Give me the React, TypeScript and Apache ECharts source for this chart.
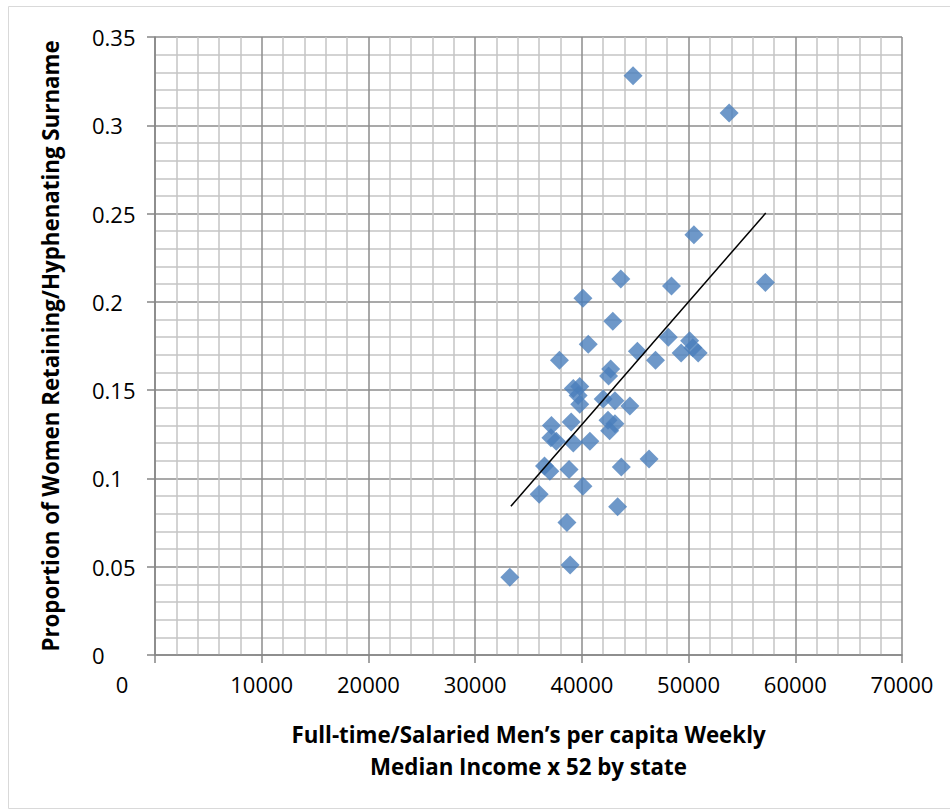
import React, { useEffect, useRef } from "react";
import * as echarts from "echarts";

// Median income (x) and proportion retaining/hyphenating surname (y), per state
const incomeX: number[] = [
  44800, 53800, 50500, 43650, 48400, 57200, 40100, 42900, 48100, 40600,
  45200, 46900, 37900, 50100, 50400, 49300, 50900, 42700, 42500, 39200,
  39800, 39650, 39800, 42000, 43100, 44500, 39000, 37150, 42450, 43100,
  42600, 37100, 37600, 39200, 40750, 36500, 37000, 38800, 40100, 36000,
  43700, 46300, 43350, 38600, 38900, 33250,
];
const proportionY: number[] = [
  0.328, 0.307, 0.238, 0.213, 0.209, 0.211, 0.202, 0.189, 0.18, 0.176,
  0.172, 0.167, 0.167, 0.178, 0.174, 0.171, 0.171, 0.162, 0.158, 0.151,
  0.152, 0.147, 0.142, 0.145, 0.144, 0.141, 0.132, 0.13, 0.133, 0.131,
  0.127, 0.123, 0.121, 0.12, 0.121, 0.107, 0.104, 0.105, 0.0955, 0.091,
  0.1065, 0.111, 0.084, 0.075, 0.051, 0.044,
];
// Linear trend line end points
const trendX: number[] = [33350, 57230];
const trendY: number[] = [0.0842, 0.2503];

const xTitle = "Full-time/Salaried Men\u2019s per capita Weekly\nMedian Income x 52 by state";
const yTitle = "Proportion of Women Retaining/Hyphenating Surname";

export default function App() {
  const ref = useRef<HTMLDivElement>(null);
  useEffect(() => {
    if (!ref.current) return;
    const chart = echarts.init(ref.current, undefined, { renderer: "svg" });
    const font = "'Open Sans', Lato, sans-serif";
    chart.setOption({
      animation: false,
      backgroundColor: "#ffffff",
      textStyle: { fontFamily: font },
      graphic: [
        {
          type: "rect",
          shape: { x: 8.5, y: 6.5, width: 960, height: 802 },
          style: { fill: "none", stroke: "#d9d9d9", lineWidth: 1 },
          silent: true,
          z: -10,
        },
      ],
      grid: { left: 155, right: 48, top: 37, bottom: 155, containLabel: false },
      xAxis: {
        type: "value",
        min: 0,
        max: 70000,
        interval: 10000,
        name: xTitle,
        nameLocation: "middle",
        nameGap: 63,
        nameTextStyle: {
          fontFamily: font,
          fontSize: 22.3,
          fontWeight: "bold",
          color: "#000",
          lineHeight: 32,
          align: "center",
        },
        axisLine: { show: true, lineStyle: { color: "#868686", width: 1.5 } },
        axisTick: { show: true, length: 8, inside: false, lineStyle: { color: "#868686", width: 1.5 } },
        axisLabel: {
          color: "#000",
          fontSize: 22,
          fontFamily: font,
          margin: 18,
          formatter: (v: number) => (v === 0 ? "{z|0}" : String(v)),
          rich: { z: { padding: [0, 66, 0, 0], fontSize: 22, fontFamily: font, color: "#000" } },
        },
        splitLine: { show: true, lineStyle: { color: "#8c8c8c", width: 1.5 } },
        minorTick: { show: false, splitNumber: 5 },
        minorSplitLine: { show: true, lineStyle: { color: "#c4c4c4", width: 1.5 } },
      },
      yAxis: {
        type: "value",
        min: 0,
        max: 0.35,
        interval: 0.05,
        name: yTitle,
        nameLocation: "middle",
        nameGap: 94,
        nameTextStyle: { fontFamily: font, fontSize: 22.3, fontWeight: "bold", color: "#000" },
        axisLine: { show: true, lineStyle: { color: "#868686", width: 1.5 } },
        axisTick: { show: true, length: 8, inside: false, lineStyle: { color: "#868686", width: 1.5 } },
        axisLabel: {
          color: "#000",
          fontSize: 22,
          fontFamily: font,
          align: "left",
          margin: 63,
          formatter: (v: number) => String(Math.round(v * 100) / 100),
        },
        splitLine: { show: true, lineStyle: { color: "#8c8c8c", width: 1.5 } },
        minorTick: { show: false, splitNumber: 5 },
        minorSplitLine: { show: true, lineStyle: { color: "#c4c4c4", width: 1.5 } },
      },
      series: [
        {
          type: "scatter",
          symbol: "diamond",
          symbolSize: [19, 19],
          itemStyle: { color: "#4a7ebb" },
          data: incomeX.map((x, i) => [x, proportionY[i]]),
          z: 3,
        },
        {
          type: "line",
          data: trendX.map((x, i) => [x, trendY[i]]),
          symbol: "none",
          lineStyle: { color: "#000", width: 1.5 },
          z: 4,
        },
      ],
    });
    return () => chart.dispose();
  }, []);
  return (
    <div
      ref={ref}
      style={{ position: "fixed", left: 0, top: 0, width: 950, height: 810 }}
    />
  );
}
